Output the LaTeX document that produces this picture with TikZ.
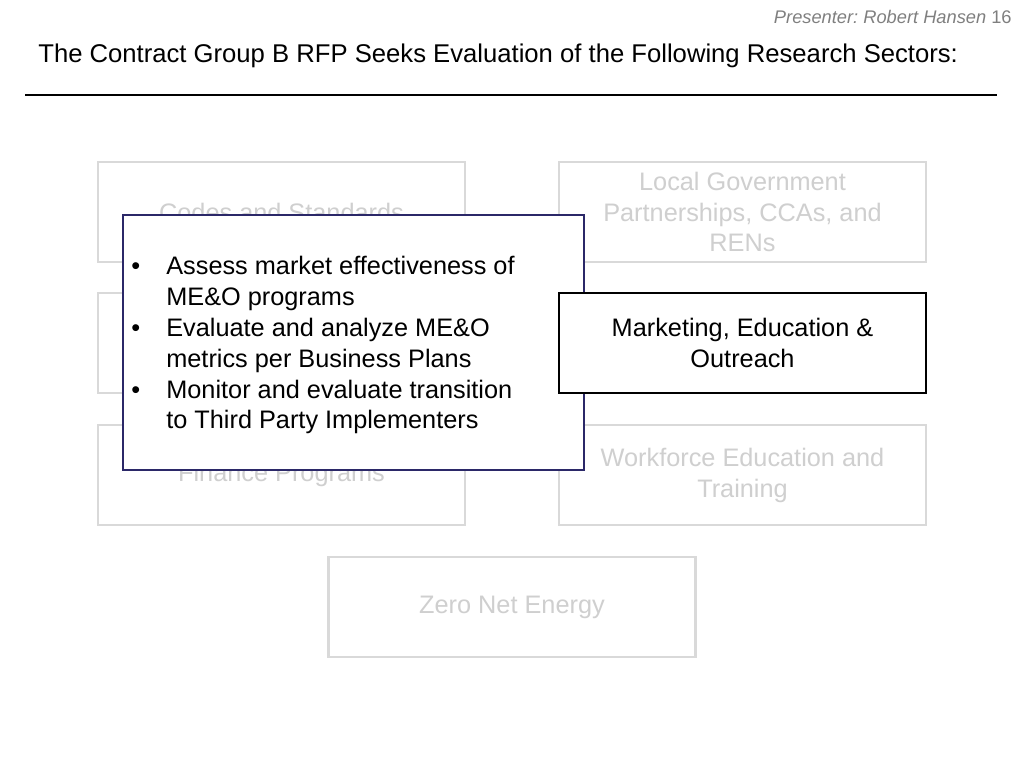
\documentclass[tikz,border=0pt]{standalone}
\usepackage{fontspec}
\setmainfont{Liberation Sans}
\usepackage{xcolor}
\usetikzlibrary{positioning}
\definecolor{sectorgray}{HTML}{D9D9D9}
\definecolor{sectortext}{HTML}{CFCFCF}
\definecolor{popupnavy}{HTML}{2B2868}
\definecolor{presentergray}{HTML}{7F7F7F}

\begin{document}
\begin{tikzpicture}[
    x=0.02cm, y=-0.02cm,
    sector/.style={rectangle, draw=sectorgray, line width=1.5pt, fill=white, text=sectortext,
        minimum width=7.34cm, minimum height=2cm, align=center,
        font=\fontsize{14.4}{17.6}\selectfont},
    focus/.style={sector, draw=black, line width=1.6pt, text=black},
    popup/.style={rectangle, draw=popupnavy, line width=1.2pt, fill=white,
        minimum width=9.22cm, minimum height=5.1cm},
]
\useasboundingbox (0,0) rectangle (1024,768);
% HEADER
\node[anchor=east, inner sep=0pt, font=\fontsize{10.4}{12}\selectfont, text=presentergray] (presenter) at (1012,17)
    {\textit{Presenter:~Robert Hansen} 16};
\node[anchor=west, inner sep=0pt, font=\fontsize{14.6}{17.6}\selectfont] (title) at (38,56)
    {The Contract Group B RFP Seeks Evaluation of the Following Research Sectors:};
\coordinate (ruleL) at (25,95);
\coordinate (ruleR) at (997,95);
\draw[line width=1.6pt] (ruleL) -- (ruleR);
% SECTORS
\node[sector] (codes) at (281.5,212) {Codes and Standards};
\node[sector] (hidden) at (281.5,343) {};
\node[sector] (finance) at (281.5,475) {Finance Programs};
\node[sector] (local) at (742.5,212) {Local Government\\Partnerships, CCAs, and\\RENs};
\node[sector] (workforce) at (742.5,475) {Workforce Education and\\Training};
\node[sector] (zne) at (512,607) {Zero Net Energy};
% POPUP
\node[popup] (details) at (353.5,342.5) {};
\node[anchor=west, font=\fontsize{14.4}{17.6}\selectfont, inner sep=0pt] (bullets) at (131,345.5)
    {\begin{tabular}{@{}p{0.70cm}@{}l@{}}
     \textbullet & Assess market effectiveness of\\
                 & ME\&O programs\\
     \textbullet & Evaluate and analyze ME\&O\\
                 & metrics per Business Plans\\
     \textbullet & Monitor and evaluate transition\\
                 & to Third Party Implementers
     \end{tabular}};
\node[focus] (meo) at (742.5,343) {Marketing, Education \&\\Outreach};
\end{tikzpicture}
\end{document}
